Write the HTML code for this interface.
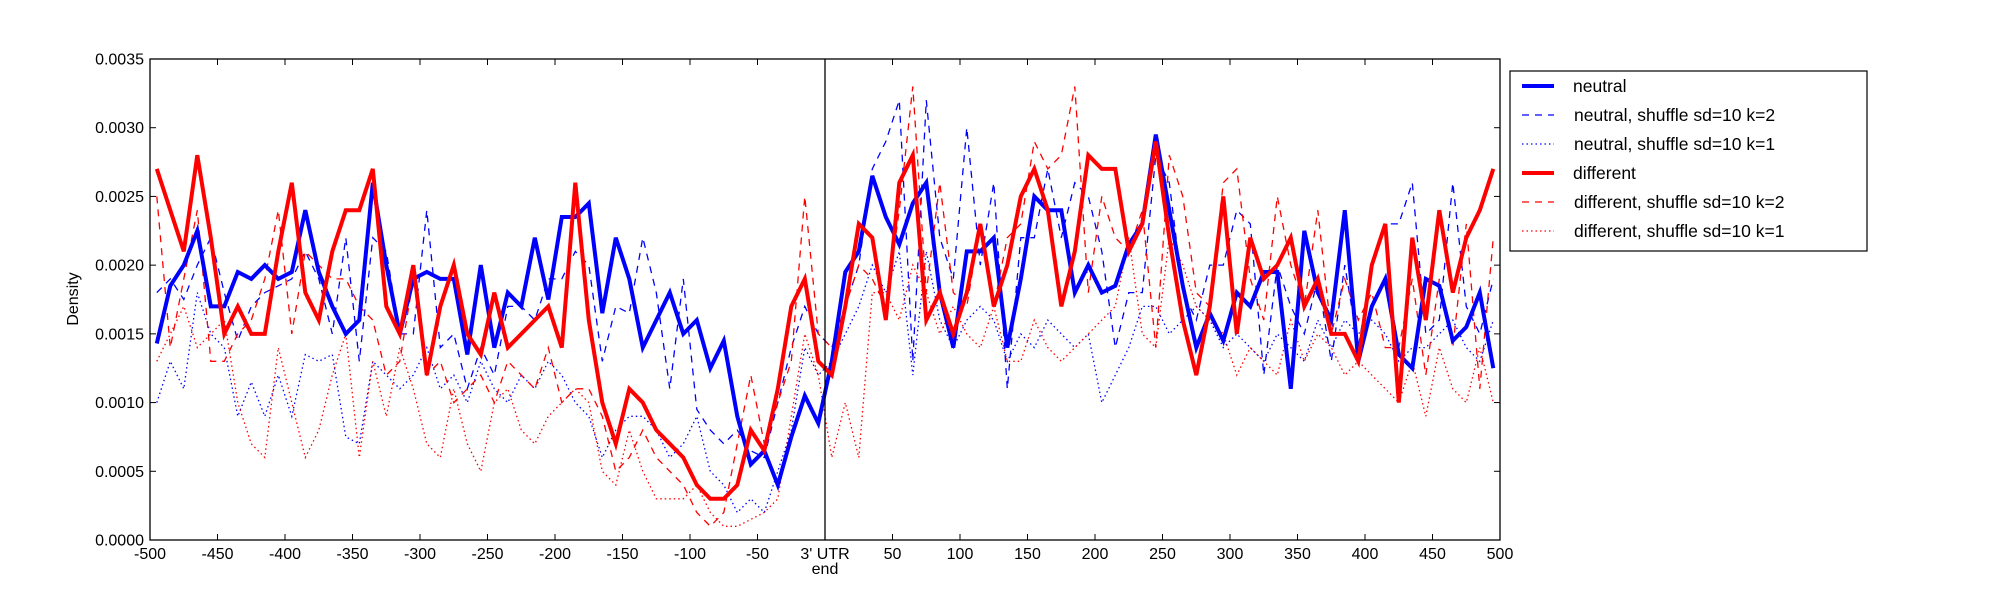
<!DOCTYPE html>
<html><head><meta charset="utf-8"><style>
html,body{margin:0;padding:0;background:#fff;}
svg{display:block;font-family:"Liberation Sans","DejaVu Sans",sans-serif;}
</style></head><body>
<svg id="s" width="2000" height="600" xmlns="http://www.w3.org/2000/svg">
<rect width="2000" height="600" fill="#fff"/>
<defs><clipPath id="c"><rect x="150" y="59" width="1350" height="481"/></clipPath></defs>
<g id="plot" clip-path="url(#c)"></g>
<line x1="825" y1="59" x2="825" y2="540" stroke="#000" stroke-width="1.3"/>
<rect x="150" y="59" width="1350" height="481" fill="none" stroke="#000" stroke-width="1.3"/>
<g id="ticks" font-size="16" fill="#000"></g>
<text x="825" y="574" font-size="16" text-anchor="middle">end</text>
<text transform="translate(78,299) rotate(-90)" font-size="16" text-anchor="middle">Density</text>
<g>
<rect x="1510" y="71" width="357" height="180" fill="#fff" stroke="#000" stroke-width="1.2"/>
<line x1="1522" y1="86" x2="1554" y2="86" stroke="#00f" stroke-width="4"/>
<line x1="1522" y1="115" x2="1554" y2="115" stroke="#00f" stroke-width="1.3" stroke-dasharray="7,6"/>
<line x1="1522" y1="144" x2="1554" y2="144" stroke="#00f" stroke-width="1.3" stroke-dasharray="1.5,3"/>
<line x1="1522" y1="173" x2="1554" y2="173" stroke="#f00" stroke-width="4"/>
<line x1="1522" y1="202" x2="1554" y2="202" stroke="#f00" stroke-width="1.3" stroke-dasharray="7,6"/>
<line x1="1522" y1="231" x2="1554" y2="231" stroke="#f00" stroke-width="1.3" stroke-dasharray="1.5,3"/>
<g font-size="17.5" fill="#000">
<text x="1573" y="92">neutral</text>
<text x="1574" y="121">neutral, shuffle sd=10 k=2</text>
<text x="1574" y="150">neutral, shuffle sd=10 k=1</text>
<text x="1573" y="179">different</text>
<text x="1574" y="208">different, shuffle sd=10 k=2</text>
<text x="1574" y="237">different, shuffle sd=10 k=1</text>
</g></g>
</svg>
<script>
const NS="http://www.w3.org/2000/svg";
const X=v=>150+(v+500)*1.35, Y=v=>540-v*13.743;
const bs=[14.3,18.5,20,22.5,17,17,19.5,19,20,19,19.5,24,19.5,17,15,16,26,20,15,19,19.5,19,19,13.5,20,14,18,17,22,17.5,23.5,23.5,24.5,16.5,22,19,14,16,18,15,16,12.5,14.5,9,5.5,6.5,4,7.5,10.5,8.5,13,19.5,21,26.5,23.5,21.5,24.5,26,18,14,21,21,22,14,19,25,24,24,18,20,18,18.5,21.5,23,29.5,24,18.5,14,16.5,14.5,18,17,19.5,19.5,11,22.5,18,16,24,13,17,19,13.5,12.5,19,18.5,14.5,15.5,18,12.5];
const rs=[27,24,21,28,22,15,17,15,15,21,26,18,16,21,24,24,27,17,15,20,12,17,20,15,13.5,18,14,15,16,17,14,26,16,10,7,11,10,8,7,6,4,3,3,4,8,6.5,11,17,19,13,12,17,23,22,16,26,28,16,18,15,18,23,17,20,25,27,24,17,21,28,27,27,21,23,29,22,16,12,17,25,15,22,19,20,22,17,19,15,15,13,20,23,10,22,16,24,18,22,24,21,27].filter((v,i,a)=>i!==a.length-2);
const bd=[18,19,17.5,20,22,18,14.5,17,18,18.5,19,21,19,15,22,13,22,21,15,15,24,14,15,11,14,12,17,17,16,19,19,21,20,13,17,16.5,22,18,11,19,9.5,8,7,8,6.5,6,10,14,17,15,14,17,20,27,29,32,13,32,22,19,30,20,26,11,22,22,27,22,26,25,21,14,18,18,28,26,18,16,20,20,24,23,12,20,17,15,19,13,20,14,20,23,23,26,15,16,26,17,15,19];
const bo=[10,13,11,18,15,14,9,11.5,9,12,9,13.5,13,13.5,7.5,7,13,12,11,12,14,11,12,10,13,11,10,12,11,13,12,10,9,6,8,9,9,8,6,7,9,5,4,2,3,2,5,8,14,12,13,15,17,20,18,21,12,21,16,14,16,17,16,13,15,14,16,15,14,15,10,12,14,17,17,15,16,17,16,14,15,14,13,15,14,13,16,14,16,15,16,15,13,14,14,15,16,14,13,16];
const rd=[25,14,19,24,13,13,15,16,19,24,15,21,20,19,19,17,16,12,13,19,12,13,10,11,12,10,13,12,11,14,10,11,11,9,5,6,8,6,5,4,2,1,2,7,12,7,10,13,25,15,14,17,20,19,17,24,33,18,26,18,17,23,17,22,23,29,27,28,33,18,25,22,21,24,14,28,25,18,17,26,27,19,16,25,20,17,24,15,19,16,18,14,14,19,12,19,14,23,11,22];
const ro=[13,15,17,14,15,16,10,7,6,14,10,6,8,12,15,6,13,9,14,11,7,6,11,7,5,10,11,8,7,9,10,11,10,5,4,8,5,3,3,3,4,2,1,1,1.5,2,3,9,15,12,6,10,6,18,18,16,20,18,15,17,15,14,17,13,13,16,14,13,14,15,16,17,22,15,14,22,20,17,16,15,12,14,13,12,16,13,15,14,12,13,12,11,10,13,9,14,11,10,14,10];
function line(d,col,w,dash){const p=document.createElementNS(NS,"polyline");
p.setAttribute("points",d.map((v,i)=>X(-495+i*10).toFixed(1)+","+Y(v).toFixed(1)).join(" "));
p.setAttribute("fill","none");p.setAttribute("stroke",col);p.setAttribute("stroke-width",w);
p.setAttribute("stroke-linejoin","miter");if(dash)p.setAttribute("stroke-dasharray",dash);
document.getElementById("plot").appendChild(p);}
line(bd,"#00f",1.3,"7,6");line(bo,"#00f",1.3,"1.5,3");
line(rd,"#f00",1.3,"7,6");line(ro,"#f00",1.3,"1.5,3");
line(bs,"#00f",4);line(rs,"#f00",4);
const t=document.getElementById("ticks");
function add(tag,a,txt){const e=document.createElementNS(NS,tag);for(const k in a)e.setAttribute(k,a[k]);if(txt)e.textContent=txt;t.appendChild(e);}
for(let v=-500;v<=500;v+=50){const x=X(v);
add("line",{x1:x,y1:540,x2:x,y2:534,stroke:"#000"});add("line",{x1:x,y1:59,x2:x,y2:65,stroke:"#000"});
add("text",{x:x,y:559,"text-anchor":"middle"},v==0?"3' UTR":String(v));}
for(let i=0;i<=7;i++){const y=Y(i*5);
add("line",{x1:150,y1:y,x2:156,y2:y,stroke:"#000"});add("line",{x1:1500,y1:y,x2:1494,y2:y,stroke:"#000"});
add("text",{x:144,y:y+5.5,"text-anchor":"end"},(i*0.0005).toFixed(4));}
</script>
</body></html>
